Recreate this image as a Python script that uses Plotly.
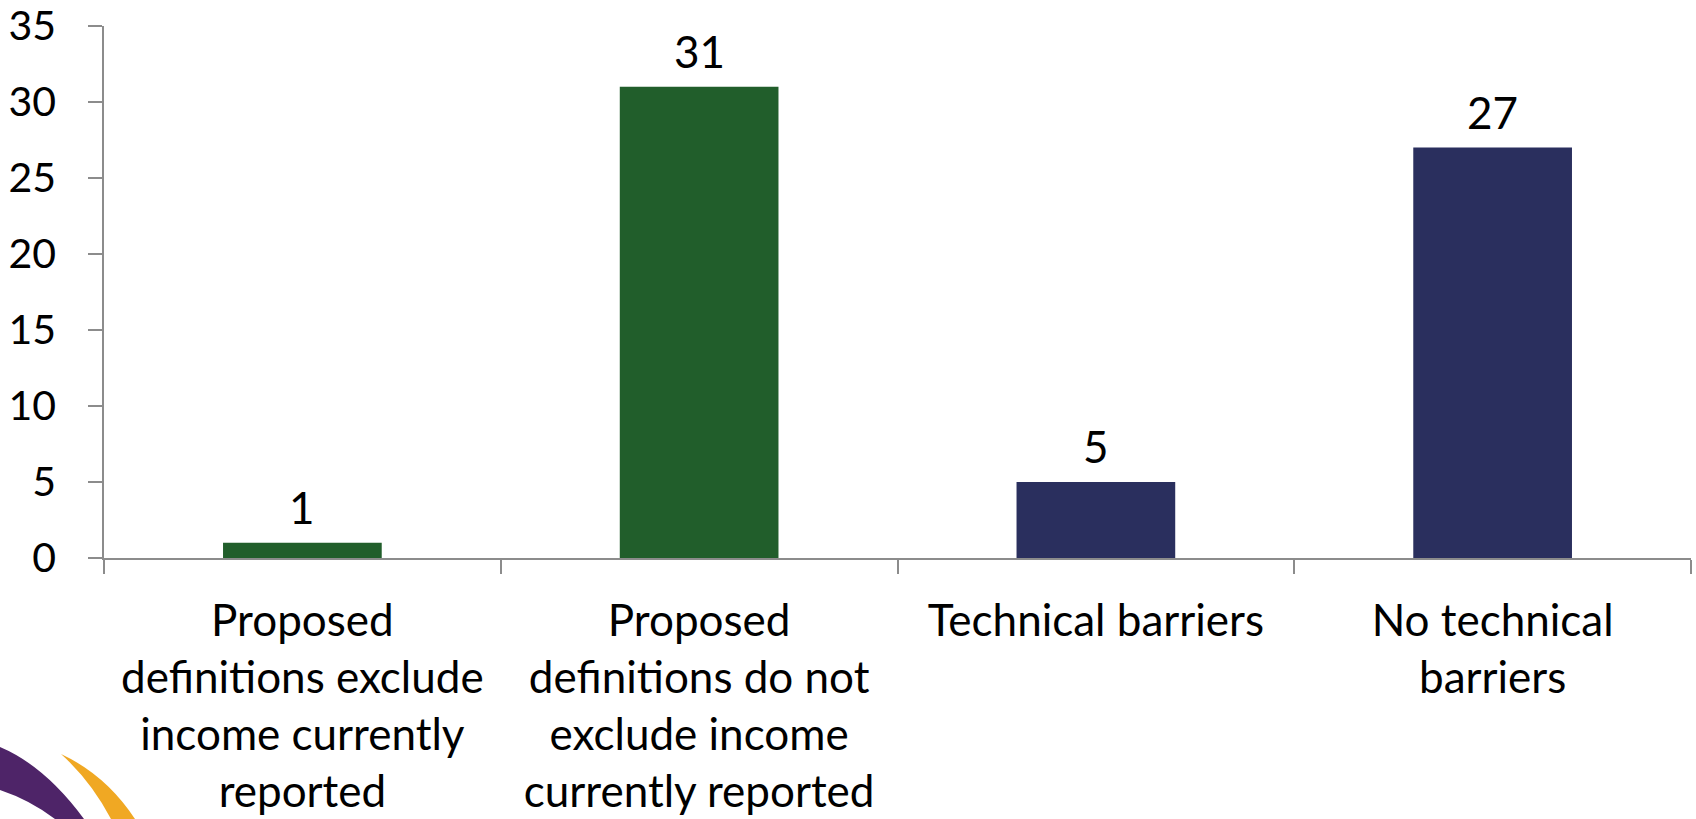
import plotly.graph_objects as go

categories = [
    "Proposed<br>definitions exclude<br>income currently<br>reported",
    "Proposed<br>definitions do not<br>exclude income<br>currently reported",
    "Technical barriers",
    "No technical<br>barriers",
]
values = [1, 31, 5, 27]
bar_colors = ["#215E2B", "#215E2B", "#2A2F5E", "#2A2F5E"]
y_ticks = [0, 5, 10, 15, 20, 25, 30, 35]

FONT = "Lato"
FS = 44
W, H = 1696, 819
L, R, T, B = 104, 5, 26, 261

fig = go.Figure()
fig.add_trace(go.Bar(
    x=categories, y=values, marker=dict(color=bar_colors, line=dict(width=0)),
    hoverinfo="skip",
))

for c, v in zip(categories, values):
    fig.add_annotation(x=c, y=v, text=str(v), showarrow=False, yanchor="bottom",
                       yshift=8, font=dict(family=FONT, size=FS, color="#000000"))

# decorative logo swooshes (pixel -> paper)
pw, ph = W - L - R, H - T - B
def P(px, py):
    return f"{(px - L) / pw:.5f},{(H - B - py) / ph:.5f}"

purple = (f"M {P(0,747)} Q {P(45,766)} {P(84,819)} L {P(55,819)} "
          f"Q {P(30,800)} {P(0,790)} Z")
orange = (f"M {P(61,754)} Q {P(106,775)} {P(135,819)} L {P(111,819)} "
          f"Q {P(91,781)} {P(61,754)} Z")
fig.add_shape(type="path", path=purple, xref="paper", yref="paper",
              fillcolor="#4E2468", line=dict(width=0), layer="below")
fig.add_shape(type="path", path=orange, xref="paper", yref="paper",
              fillcolor="#F0A823", line=dict(width=0), layer="below")

fig.update_layout(
    width=W, height=H,
    margin=dict(l=L, r=R, t=T, b=B, pad=0, autoexpand=False),
    paper_bgcolor="white", plot_bgcolor="white",
    showlegend=False, bargap=0.6,
    font=dict(family=FONT, size=FS, color="#000000"),
)
fig.update_xaxes(
    showline=True, linecolor="#8C8C8C", linewidth=1.5,
    ticks="outside", ticklen=14, tickwidth=1.5, tickcolor="#8C8C8C",
    tickson="boundaries", showgrid=False, zeroline=False, automargin=False,
    tickfont=dict(family=FONT, size=FS, color="#000000"),
    ticklabelstandoff=23, ticklabeloverflow="allow", fixedrange=True,
)
fig.update_yaxes(
    range=[0, 35], tickvals=y_ticks, showline=True, linecolor="#8C8C8C", linewidth=1.5,
    ticks="outside", ticklen=14, tickwidth=1.5, tickcolor="#8C8C8C",
    showgrid=False, zeroline=False, automargin=False,
    tickfont=dict(family=FONT, size=41, color="#000000"),
    ticklabelstandoff=24, ticklabeloverflow="allow", fixedrange=True,
)

fig.write_html("out.html", config={"displayModeBar": False},
               post_script="document.body.style.margin='0';document.body.style.padding='0';")
